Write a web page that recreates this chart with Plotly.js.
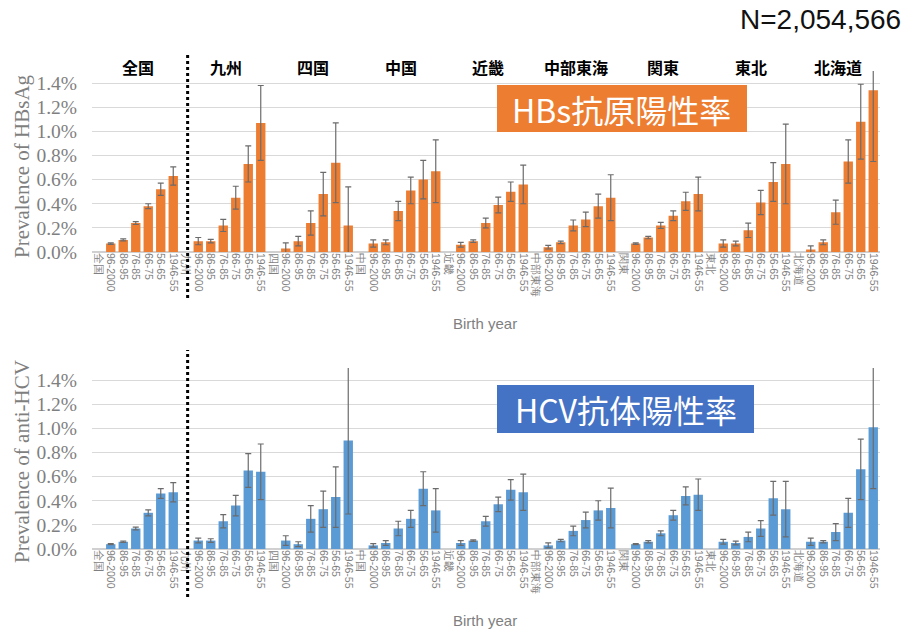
<!DOCTYPE html>
<html>
<head>
<meta charset="utf-8">
<script src="https://cdn.plot.ly/plotly-3.0.1.min.js"></script>
<style>html,body{margin:0;padding:0;background:#fff;}#chart{width:913px;height:633px;}</style>
</head>
<body>
<div id="chart"></div>
<script>
const regions = ['全国','九州','四国','中国','近畿','中部東海','関東','東北','北海道'];
const bands = ['96-2000','86-95','76-85','66-75','56-65','1946-55'];

// HBsAg prevalence (%) per region, per birth-year band
const hbs = [
  [0.07, 0.10, 0.24, 0.38, 0.52, 0.63],
  [0.09, 0.09, 0.22, 0.45, 0.73, 1.07],
  [0.03, 0.09, 0.24, 0.48, 0.74, 0.22],
  [0.07, 0.08, 0.34, 0.51, 0.60, 0.67],
  [0.06, 0.09, 0.24, 0.39, 0.50, 0.56],
  [0.04, 0.08, 0.22, 0.27, 0.38, 0.45],
  [0.07, 0.12, 0.22, 0.30, 0.42, 0.48],
  [0.07, 0.07, 0.18, 0.41, 0.58, 0.73],
  [0.02, 0.08, 0.33, 0.75, 1.08, 1.34]
];
const hbsErr = [
  [0.006, 0.008, 0.012, 0.02, 0.05, 0.075],
  [0.03, 0.015, 0.05, 0.095, 0.15, 0.31],
  [0.045, 0.04, 0.10, 0.18, 0.33, 0.32],
  [0.03, 0.02, 0.08, 0.11, 0.16, 0.26],
  [0.02, 0.01, 0.04, 0.065, 0.08, 0.16],
  [0.015, 0.01, 0.045, 0.06, 0.10, 0.19],
  [0.006, 0.01, 0.025, 0.04, 0.075, 0.14],
  [0.03, 0.02, 0.06, 0.10, 0.16, 0.33],
  [0.03, 0.02, 0.10, 0.18, 0.31, 0.59]
];
// anti-HCV prevalence (%)
const hcv = [
  [0.04, 0.06, 0.17, 0.30, 0.46, 0.47],
  [0.07, 0.07, 0.23, 0.36, 0.65, 0.64],
  [0.07, 0.04, 0.25, 0.33, 0.43, 0.90],
  [0.03, 0.05, 0.17, 0.25, 0.50, 0.32],
  [0.05, 0.07, 0.23, 0.37, 0.49, 0.47],
  [0.03, 0.07, 0.15, 0.24, 0.32, 0.34],
  [0.04, 0.06, 0.13, 0.28, 0.44, 0.45],
  [0.06, 0.05, 0.10, 0.17, 0.42, 0.33],
  [0.06, 0.06, 0.14, 0.30, 0.66, 1.01]
];
const hcvErr = [
  [0.004, 0.006, 0.012, 0.025, 0.04, 0.08],
  [0.02, 0.015, 0.055, 0.085, 0.14, 0.23],
  [0.04, 0.02, 0.11, 0.15, 0.25, 0.61],
  [0.015, 0.02, 0.06, 0.07, 0.14, 0.18],
  [0.02, 0.006, 0.04, 0.06, 0.085, 0.15],
  [0.02, 0.01, 0.04, 0.065, 0.08, 0.165],
  [0.004, 0.01, 0.02, 0.04, 0.075, 0.13],
  [0.02, 0.015, 0.04, 0.065, 0.14, 0.23],
  [0.03, 0.01, 0.07, 0.12, 0.25, 0.51]
];

const titleTop = 'HBs抗原陽性率';
const titleBottom = 'HCV抗体陽性率';
const sampleSize = 'N=2,054,566';

// category slots: each region = label slot + 6 bands
const slot = regions.length * (bands.length + 1);
const tickvals = [], ticktext = [];
regions.forEach((r, k) => {
  tickvals.push(k * 7); ticktext.push(r);
  bands.forEach((b, j) => { tickvals.push(k * 7 + 1 + j); ticktext.push(b); });
});
const xs = [], y1 = [], e1 = [], y2 = [], e2 = [];
regions.forEach((r, k) => {
  bands.forEach((b, j) => {
    xs.push(k * 7 + 1 + j);
    y1.push(hbs[k][j]); e1.push(hbsErr[k][j]);
    y2.push(hcv[k][j]); e2.push(hcvErr[k][j]);
  });
});

const W = 913, H = 633;
const px = v => v / W, py = v => 1 - v / H;

const traces = [
  { type: 'bar', x: xs, y: y1, width: 0.75, xaxis: 'x', yaxis: 'y',
    marker: { color: '#ED7D31' },
    error_y: { type: 'data', array: e1, visible: true, color: '#6b6b6b', thickness: 1.2, width: 3 },
    hoverinfo: 'skip', showlegend: false },
  { type: 'bar', x: xs, y: y2, width: 0.75, xaxis: 'x2', yaxis: 'y2',
    marker: { color: '#5B9BD5' },
    error_y: { type: 'data', array: e2, visible: true, color: '#6b6b6b', thickness: 1.2, width: 3 },
    hoverinfo: 'skip', showlegend: false }
];

const xCommon = {
  domain: [px(92), px(879.5)], range: [-0.5, slot - 0.5],
  tickmode: 'array', tickvals: tickvals, ticktext: ticktext, tickangle: 90,
  tickfont: { family: 'Liberation Sans, Arial', size: 10.5, color: '#7f7f7f' },
  showgrid: false, zeroline: false, showline: false, ticks: '', fixedrange: true
};
const yCommon = {
  range: [0, 1.5], tick0: 0, dtick: 0.2, tickformat: '.1f', ticksuffix: '%',
  tickfont: { family: 'Liberation Serif, DejaVu Serif', size: 19.5, color: '#7f7f7f' },
  gridcolor: '#d9d9d9', gridwidth: 1, zeroline: true, zerolinecolor: '#d0d0d0', zerolinewidth: 1.2,
  showline: false, ticks: '', ticklabelstandoff: 14, fixedrange: true
};

const shapes = [
  { type: 'rect', xref: 'paper', yref: 'paper', x0: px(497), x1: px(747), y0: py(132), y1: py(85),
    fillcolor: '#ED7D31', line: { width: 0 }, layer: 'above' },
  { type: 'rect', xref: 'paper', yref: 'paper', x0: px(497), x1: px(754), y0: py(433), y1: py(385),
    fillcolor: '#4472C4', line: { width: 0 }, layer: 'above' },
  { type: 'line', xref: 'x', yref: 'paper', x0: 7.15, x1: 7.15, y0: py(298), y1: py(53),
    line: { color: '#000', width: 3, dash: 'dot' } },
  { type: 'line', xref: 'x2', yref: 'paper', x0: 7.15, x1: 7.15, y0: py(597), y1: py(350),
    line: { color: '#000', width: 3, dash: 'dot' } }
];

const ann = (o) => Object.assign({ showarrow: false, xanchor: 'center', yanchor: 'middle' }, o);
const annotations = [];
regions.forEach((r, k) => {
  annotations.push(ann({ xref: 'x', yref: 'paper', x: k * 7 + 3.2, y: py(67), text: '<b>' + r + '</b>',
    font: { family: 'Noto Sans CJK JP', size: 16, color: '#000' } }));
});
annotations.push(
  ann({ xref: 'paper', yref: 'paper', x: px(621), y: py(108.5), text: titleTop,
    font: { family: 'Noto Sans CJK JP', size: 32, color: '#fff' } }),
  ann({ xref: 'paper', yref: 'paper', x: px(626), y: py(409), text: titleBottom,
    font: { family: 'Noto Sans CJK JP', size: 32, color: '#fff' } }),
  ann({ xref: 'paper', yref: 'paper', x: px(903), y: py(19), xanchor: 'right', text: sampleSize,
    font: { family: 'Liberation Sans, Arial', size: 28, color: '#111' } }),
  ann({ xref: 'paper', yref: 'paper', x: px(22), y: py(166), text: 'Prevalence of HBsAg', textangle: -90,
    font: { family: 'Liberation Serif, DejaVu Serif', size: 21, color: '#7f7f7f' } }),
  ann({ xref: 'paper', yref: 'paper', x: px(22), y: py(462), text: 'Prevalence of anti-HCV', textangle: -90,
    font: { family: 'Liberation Serif, DejaVu Serif', size: 21, color: '#7f7f7f' } }),
  ann({ xref: 'paper', yref: 'paper', x: px(485), y: py(323), text: 'Birth year',
    font: { family: 'Liberation Sans, Arial', size: 15, color: '#7f7f7f' } }),
  ann({ xref: 'paper', yref: 'paper', x: px(485), y: py(620), text: 'Birth year',
    font: { family: 'Liberation Sans, Arial', size: 15, color: '#7f7f7f' } })
);

const layout = {
  width: W, height: H, margin: { l: 0, r: 0, t: 0, b: 0 },
  paper_bgcolor: '#fff', plot_bgcolor: '#fff', showlegend: false, bargap: 0.25,
  xaxis: Object.assign({}, xCommon, { anchor: 'y' }),
  xaxis2: Object.assign({}, xCommon, { anchor: 'y2' }),
  yaxis: Object.assign({}, yCommon, { anchor: 'x', domain: [py(252), py(71)] }),
  yaxis2: Object.assign({}, yCommon, { anchor: 'x2', domain: [py(549), py(368)] }),
  shapes: shapes, annotations: annotations
};

Plotly.newPlot('chart', traces, layout, { staticPlot: true, displayModeBar: false });
</script>
</body>
</html>
